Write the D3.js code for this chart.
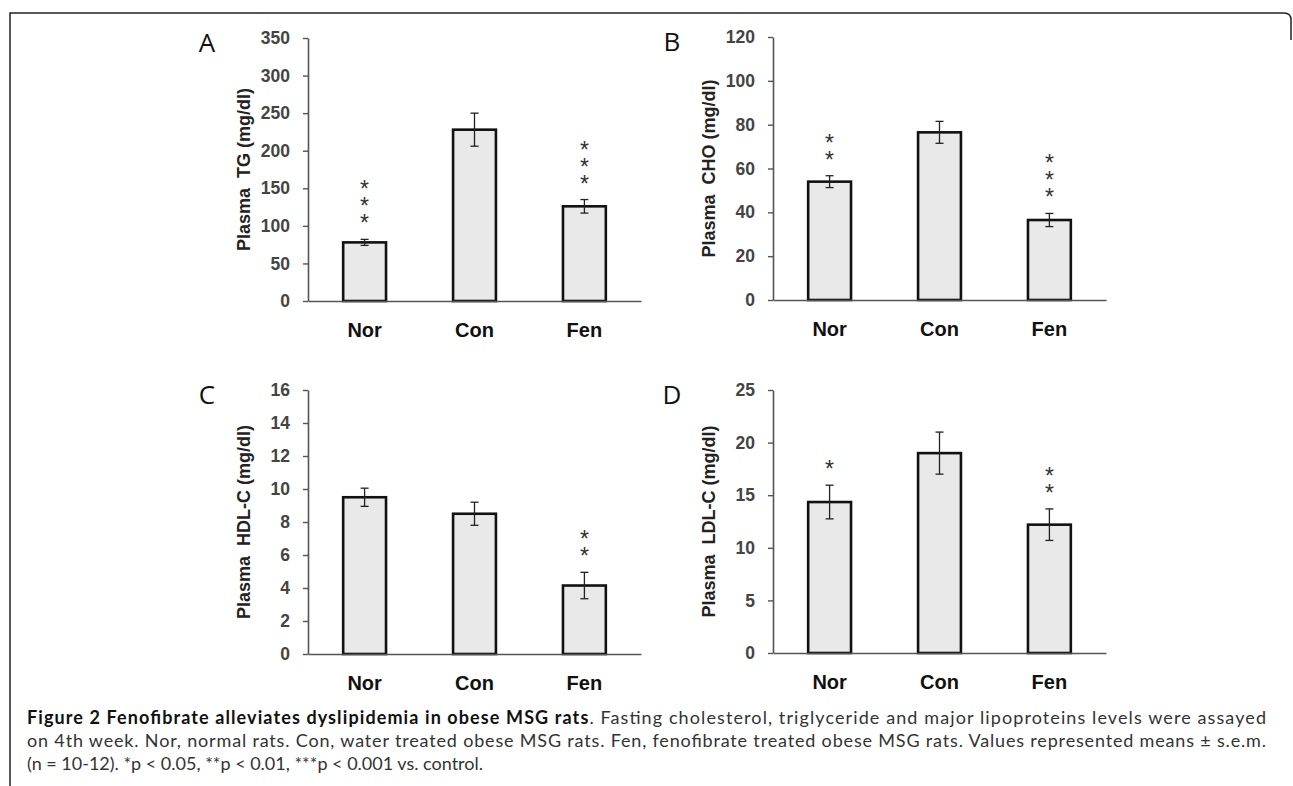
<!DOCTYPE html>
<html>
<head>
<meta charset="utf-8">
<script src="https://cdn.jsdelivr.net/npm/d3@7"></script>
<style>
  body { margin: 0; background: #fff; }
  svg { display: block; }
</style>
</head>
<body>
<div id="my_dataviz"></div>
<script>
// categories shared by all four panels
var groups = ["Nor", "Con", "Fen"];

// panel A - triglyceride
var tgMeans = [78, 228, 126];
var tgErr = [4, 22, 9];
var tgStars = ["***", "", "***"];
var tgTicks = [0, 50, 100, 150, 200, 250, 300, 350];

// panel B - cholesterol
var choMeans = [54, 76.5, 36.5];
var choErr = [2.7, 5, 3];
var choStars = ["**", "", "***"];
var choTicks = [0, 20, 40, 60, 80, 100, 120];

// panel C - HDL-C
var hdlMeans = [9.5, 8.5, 4.15];
var hdlErr = [0.55, 0.7, 0.8];
var hdlStars = ["", "", "**"];
var hdlTicks = [0, 2, 4, 6, 8, 10, 12, 14, 16];

// panel D - LDL-C
var ldlMeans = [14.35, 19, 12.2];
var ldlErr = [1.6, 2, 1.5];
var ldlStars = ["*", "", "**"];
var ldlTicks = [0, 5, 10, 15, 20, 25];

var W = 1293, H = 786;

var svg = d3.select("#my_dataviz")
  .append("svg")
    .attr("width", W)
    .attr("height", H);

// outer frame with rounded top right corner
svg.append("path")
  .attr("d", "M10,786 L10,13 L1284,13 Q1291,13 1291,20 L1291,40")
  .attr("fill", "none")
  .attr("stroke", "#222")
  .attr("stroke-width", 1.5);

var axisFont = "'Liberation Sans Narrow', 'Arial Narrow', 'Liberation Sans', Arial, sans-serif";
var boldFont = "'Liberation Sans', Arial, sans-serif";

function drawPanel(opt) {
  var plotW = 333;
  var g = svg.append("g")
    .attr("transform", "translate(" + opt.left + "," + opt.top + ")");
  var height = opt.bottom - opt.top;

  var x = d3.scaleBand()
    .domain(groups)
    .range([0, plotW])
    .paddingInner(0.61)
    .paddingOuter(0.32);

  var y = d3.scaleLinear()
    .domain([0, opt.ticks[opt.ticks.length - 1]])
    .range([height, 0]);

  var data = groups.map(function(d, i) {
    return {group: d, value: opt.means[i], err: opt.err[i], stars: opt.stars[i]};
  });

  // y axis
  var ya = g.append("g")
    .call(d3.axisLeft(y).tickValues(opt.ticks).tickSize(5).tickSizeOuter(0).tickPadding(13));
  ya.select(".domain").attr("stroke", "#555").attr("stroke-width", 1.6);
  ya.selectAll(".tick line").attr("stroke", "#555").attr("stroke-width", 1.4);
  ya.selectAll(".tick text")
    .attr("font-family", axisFont)
    .attr("font-weight", "bold")
    .attr("font-size", 17.5)
    .attr("fill", "#444");

  // bars
  g.selectAll("rect.bar")
    .data(data)
    .enter()
    .append("rect")
      .attr("class", "bar")
      .attr("x", function(d) { return x(d.group); })
      .attr("y", function(d) { return y(d.value); })
      .attr("width", x.bandwidth())
      .attr("height", function(d) { return height - y(d.value); })
      .attr("fill", "#e9e9e9")
      .attr("stroke", "#111")
      .attr("stroke-width", 2.6);

  // x axis (drawn after bars so the baseline sits on top)
  var xa = g.append("g")
    .attr("transform", "translate(0," + height + ")")
    .call(d3.axisBottom(x).tickSize(0).tickPadding(22));
  xa.select(".domain").attr("stroke", "#555").attr("stroke-width", 1.6);
  xa.selectAll(".tick text")
    .attr("font-family", boldFont)
    .attr("font-weight", "bold")
    .attr("font-size", 20)
    .attr("fill", "#111");

  // error bars
  var eb = g.selectAll("g.err")
    .data(data)
    .enter()
    .append("g")
      .attr("class", "err")
      .attr("stroke", "#222")
      .attr("stroke-width", 1.3);
  eb.append("line")
    .attr("x1", function(d) { return x(d.group) + x.bandwidth() / 2; })
    .attr("x2", function(d) { return x(d.group) + x.bandwidth() / 2; })
    .attr("y1", function(d) { return y(d.value + d.err); })
    .attr("y2", function(d) { return y(d.value - d.err); });
  eb.append("line")
    .attr("x1", function(d) { return x(d.group) + x.bandwidth() / 2 - 4; })
    .attr("x2", function(d) { return x(d.group) + x.bandwidth() / 2 + 4; })
    .attr("y1", function(d) { return y(d.value + d.err); })
    .attr("y2", function(d) { return y(d.value + d.err); });
  eb.append("line")
    .attr("x1", function(d) { return x(d.group) + x.bandwidth() / 2 - 4; })
    .attr("x2", function(d) { return x(d.group) + x.bandwidth() / 2 + 4; })
    .attr("y1", function(d) { return y(d.value - d.err); })
    .attr("y2", function(d) { return y(d.value - d.err); });

  // significance stars, one vertical text per bar
  g.selectAll("text.stars")
    .data(data.filter(function(d) { return d.stars.length > 0; }))
    .enter()
    .append("text")
      .attr("class", "stars")
      .attr("x", function(d) { return x(d.group) + x.bandwidth() / 2; })
      .attr("y", function(d) { return y(d.value + d.err) - 12; })
      .attr("text-anchor", "end")
      .style("writing-mode", "vertical-rl")
      .style("text-orientation", "upright")
      .style("letter-spacing", "-9px")
      .attr("font-family", boldFont)
      .attr("font-size", 23)
      .attr("fill", "#333")
      .text(function(d) { return d.stars; });

  // y axis title
  g.append("text")
    .attr("transform", "translate(" + (-58) + "," + (height / 2) + ") rotate(-90)")
    .attr("text-anchor", "middle")
    .attr("font-family", boldFont)
    .attr("font-weight", "bold")
    .attr("font-size", 18)
    .attr("fill", "#222")
    .attr("xml:space", "preserve")
    .text(opt.title);

  // panel letter
  g.append("text")
    .attr("x", -101)
    .attr("y", 14)
    .attr("text-anchor", "middle")
    .attr("font-family", "'Open Sans', 'Noto Sans', sans-serif")
    .attr("font-size", 26)
    .attr("fill", "#111")
    .text(opt.letter);
}

drawPanel({left: 308, top: 38, bottom: 301, ticks: tgTicks, means: tgMeans, err: tgErr, stars: tgStars, title: "Plasma  TG (mg/dl)", letter: "A"});
drawPanel({left: 773, top: 37, bottom: 300, ticks: choTicks, means: choMeans, err: choErr, stars: choStars, title: "Plasma  CHO (mg/dl)", letter: "B"});
drawPanel({left: 308, top: 390, bottom: 654, ticks: hdlTicks, means: hdlMeans, err: hdlErr, stars: hdlStars, title: "Plasma  HDL-C (mg/dl)", letter: "C"});
drawPanel({left: 773, top: 390, bottom: 653, ticks: ldlTicks, means: ldlMeans, err: ldlErr, stars: ldlStars, title: "Plasma  LDL-C (mg/dl)", letter: "D"});

// caption
var capFont = "Lato, 'Open Sans', 'Noto Sans', sans-serif";
var cap = svg.append("g")
  .attr("font-family", capFont)
  .attr("font-size", 18)
  .attr("fill", "#333");

var l1 = cap.append("text")
  .attr("x", 27).attr("y", 724)
  .attr("textLength", 1239)
  .attr("lengthAdjust", "spacing");
l1.append("tspan").attr("font-weight", "bold").attr("fill", "#111")
  .text("Figure 2 Fenofibrate alleviates dyslipidemia in obese MSG rats");
l1.append("tspan")
  .text(". Fasting cholesterol, triglyceride and major lipoproteins levels were assayed");

cap.append("text")
  .attr("x", 27).attr("y", 747)
  .attr("textLength", 1239)
  .attr("lengthAdjust", "spacing")
  .text("on 4th week. Nor, normal rats. Con, water treated obese MSG rats. Fen, fenofibrate treated obese MSG rats. Values represented means \u00b1 s.e.m.");

cap.append("text")
  .attr("x", 27).attr("y", 770)
  .text("(n = 10-12). *p < 0.05, **p < 0.01, ***p < 0.001 vs. control.");
</script>
</body>
</html>
